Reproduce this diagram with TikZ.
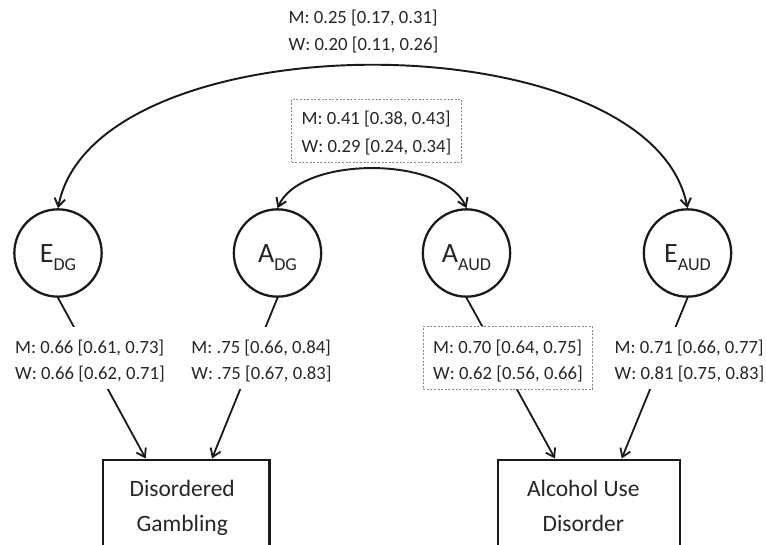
\documentclass[tikz,border=0pt]{standalone}
\usepackage{fontspec}
\setmainfont{Carlito}
\usetikzlibrary{arrows.meta,calc}
\definecolor{ink}{HTML}{1A1A1A}
\definecolor{txt}{HTML}{262626}
\definecolor{dashc}{HTML}{8A8A8A}
\newcommand{\twolines}[2]{\begin{tabular}[t]{@{}l@{}}#1\\#2\end{tabular}}
\tikzset{
  latent/.style={circle, draw=ink, line width=1.7pt, minimum size=65.5pt, inner sep=0pt,
    text=txt, font=\fontsize{21pt}{25pt}\selectfont, text height=14.55pt, text depth=0pt},
  obs/.style={rectangle, draw=ink, line width=1.7pt, inner sep=0pt, anchor=north,
    text=txt, font=\fontsize{17.6pt}{26.25pt}\selectfont, text height=27.4pt, text depth=80pt},
  est/.style={fill=white, inner xsep=7.5pt, inner ysep=0pt, anchor=base, text=txt,
    font=\fontsize{14pt}{19.3pt}\selectfont, text height=19.95pt, text depth=26.8pt},
  toplabel/.style={inner sep=0pt, anchor=base, text=txt,
    font=\fontsize{14pt}{20.55pt}\selectfont},
  dashedbox/.style={draw=dashc, line width=0.6pt, dash pattern=on 1.5pt off 1.2pt},
  arr/.style={draw=ink, line width=1.35pt, -{Straight Barb[length=6pt,width=8pt]}},
  dblarr/.style={draw=ink, line width=1.45pt,
    {Straight Barb[length=6pt,width=8pt]}-{Straight Barb[length=6pt,width=8pt]}},
}
\begin{document}
\begin{tikzpicture}[x=0.75pt, y=-0.75pt]
\useasboundingbox (0,0) rectangle (766,545);
\clip (0,0) rectangle (766,545);
\fill[white] (0,0) rectangle (766,545);

% latent variables
\node[latent] (Edg)  at (58,253)    {E\raisebox{-5.5pt}{\fontsize{13.6pt}{16pt}\selectfont DG}};
\node[latent] (Adg)  at (277.5,253) {A\raisebox{-5.5pt}{\fontsize{13.6pt}{16pt}\selectfont DG}};
\node[latent] (Aaud) at (466.5,253) {A\raisebox{-5.5pt}{\fontsize{13.6pt}{16pt}\selectfont AUD}};
\node[latent] (Eaud) at (687.5,253) {E\raisebox{-5.5pt}{\fontsize{13.6pt}{16pt}\selectfont AUD}};

% observed variables
\node[obs, minimum width=125pt] (dg) at (186.2,458.5)
  {\begin{tabular}[t]{@{}c@{\hspace{6pt}}}Disordered\\Gambling\end{tabular}};
\node[obs, minimum width=136.8pt] (aud) at (589,458.5)
  {\begin{tabular}[t]{@{}c@{\hspace{8.5pt}}}Alcohol Use\\Disorder\end{tabular}};

% correlations
\draw[dblarr] (Edg.north) .. controls +(37,-190.4) and +(-37,-190.4) .. (Eaud.north);
\draw[dblarr] (Adg.north) .. controls +(23,-52.7) and +(-23,-52.7) .. (Aaud.north);

% loadings
\draw[arr] (Edg.south)  -- ($(dg.north)+(-40.5,0)$);
\draw[arr] (Adg.south)  -- ($(dg.north)+(25.8,0)$);
\draw[arr] (Aaud.south) -- ($(aud.north)+(-34,0)$);
\draw[arr] (Eaud.south) -- ($(aud.north)+(32.7,0)$);

% estimates
\node[toplabel] (rE) at (363.5,23.3) {\twolines{M: 0.25 [0.17, 0.31]}{W: 0.20 [0.11, 0.26]}};
\node[est, dashedbox, text height=19.5pt, text depth=28pt, font=\fontsize{14pt}{20.8pt}\selectfont]
  (rA) at (376.5,125) {\twolines{M: 0.41 [0.38, 0.43]}{W: 0.29 [0.24, 0.34]}};
\node[est] (lEdg) at (90,353.3) {\twolines{M: 0.66 [0.61, 0.73]}{W: 0.66 [0.62, 0.71]}};
\node[est] (lAdg) at (261.5,353.3) {\twolines{M: .75 [0.66, 0.84]}{W: .75 [0.67, 0.83]}};
\node[est, dashedbox] (lAaud) at (508,353.3) {\twolines{M: 0.70 [0.64, 0.75]}{W: 0.62 [0.56, 0.66]}};
\node[est] (lEaud) at (689.5,353.3) {\twolines{M: 0.71 [0.66, 0.77]}{W: 0.81 [0.75, 0.83]}};
\end{tikzpicture}
\end{document}
